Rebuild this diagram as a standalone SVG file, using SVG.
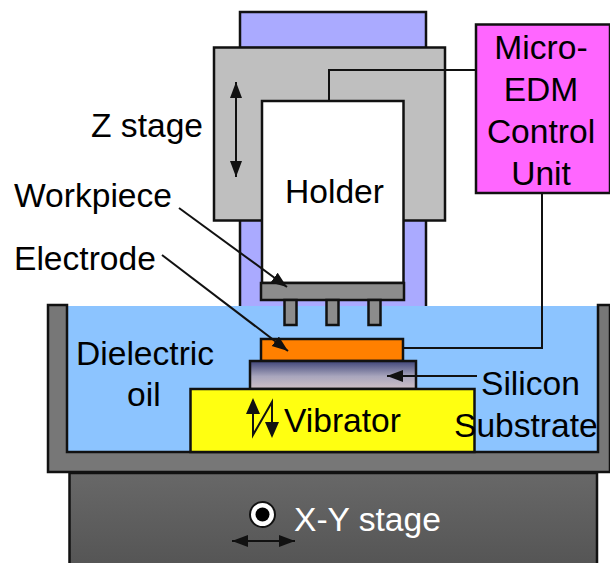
<svg xmlns="http://www.w3.org/2000/svg" width="610" height="563" viewBox="0 0 610 563">
<style>
text{font-family:"Liberation Sans",Arial,sans-serif;font-size:33.600px;fill:#000}
.s{stroke:#111;stroke-width:2.500}
.l{fill:none;stroke:#111;stroke-width:2}
</style>
<defs>
<linearGradient id="g" x1="0" y1="0" x2="0" y2="1"><stop offset="0" stop-color="#3f4478"/><stop offset="0.55" stop-color="#a9a6bd"/><stop offset="1" stop-color="#cfc0c6"/></linearGradient>
<linearGradient id="d" x1="0" y1="0" x2="0" y2="1"><stop offset="0" stop-color="#686868"/><stop offset="1" stop-color="#555"/></linearGradient>
<marker id="a" markerUnits="userSpaceOnUse" markerWidth="18" markerHeight="14" refX="16" refY="6" orient="auto-start-reverse"><path d="M0 0L16 6L0 12z" fill="#111"/></marker>
</defs>
<g id="xy-stage"><rect x="69.500" y="473" width="527.500" height="92" fill="url(#d)" class="s"/><text x="294" y="531" style="fill:#fff">X-Y stage</text><circle cx="262.500" cy="514.500" r="12.500" fill="#fff" stroke="#111" stroke-width="2"/><circle cx="262.500" cy="514.500" r="7" fill="#000"/></g>
<g id="column"><rect x="240" y="12" width="186" height="36" fill="#aaf" class="s"/><rect x="240" y="212" width="186" height="98" fill="#aaf" class="s"/></g>
<g id="oil"><rect x="67" y="306" width="531" height="146" fill="#8cc4ff"/></g>
<g id="tank"><path d="M48 305H67V452H598V305H610V472H48Z" fill="#777" class="s"/></g>
<g id="z-stage"><rect x="214" y="47.500" width="231" height="173" fill="#bfbfbf" class="s"/></g>
<g id="holder"><rect x="262" y="101" width="141.500" height="182" fill="#fff" class="s"/><text x="285" y="203">Holder</text></g>
<g id="workpiece"><rect x="261" y="283" width="143" height="17" fill="#8c8c8c" class="s"/><rect x="284.500" y="300" width="12" height="25" fill="#8c8c8c" class="s"/><rect x="326.500" y="300" width="12" height="25" fill="#8c8c8c" class="s"/><rect x="368.500" y="300" width="12" height="25" fill="#8c8c8c" class="s"/></g>
<g id="electrode"><rect x="261" y="339" width="142" height="22" fill="#ff8000" class="s"/></g>
<g id="substrate"><rect x="250" y="361" width="166" height="28" fill="url(#g)" class="s"/></g>
<g id="vibrator"><rect x="190.500" y="389" width="284" height="63" fill="#ff1" class="s"/><text x="284" y="432">Vibrator</text></g>
<g id="control"><rect x="476" y="24.500" width="134" height="168.500" fill="#f6f" class="s"/><text x="541" y="59" text-anchor="middle">Micro-</text><text x="541" y="101" text-anchor="middle">EDM</text><text x="541" y="143" text-anchor="middle">Control</text><text x="541" y="185" text-anchor="middle">Unit</text></g>
<g id="labels"><text x="91" y="137">Z stage</text><text x="14" y="207">Workpiece</text><text x="14" y="270">Electrode</text><text x="76" y="365">Dielectric</text><text x="127" y="406">oil</text><text x="481" y="395">Silicon</text><text x="454" y="437">Substrate</text></g>
<g id="connectors">
<path class="l" d="M476 70H329V101M403 348H542V193"/>
<path class="l" d="M236 82V177" marker-start="url(#a)" marker-end="url(#a)"/>
<path class="l" d="M232 541H295" marker-start="url(#a)" marker-end="url(#a)"/>
<path class="l" d="M179 208L287 287" marker-end="url(#a)"/>
<path class="l" d="M162 255L288 351" marker-end="url(#a)"/>
<path class="l" d="M477 376H387" marker-end="url(#a)"/>
<path class="l" d="M253 400V435L272 402V436"/>
<path d="M253 398l-7 16h14zM272 438l-7-16h14z" fill="#111"/>
</g>
</svg>
